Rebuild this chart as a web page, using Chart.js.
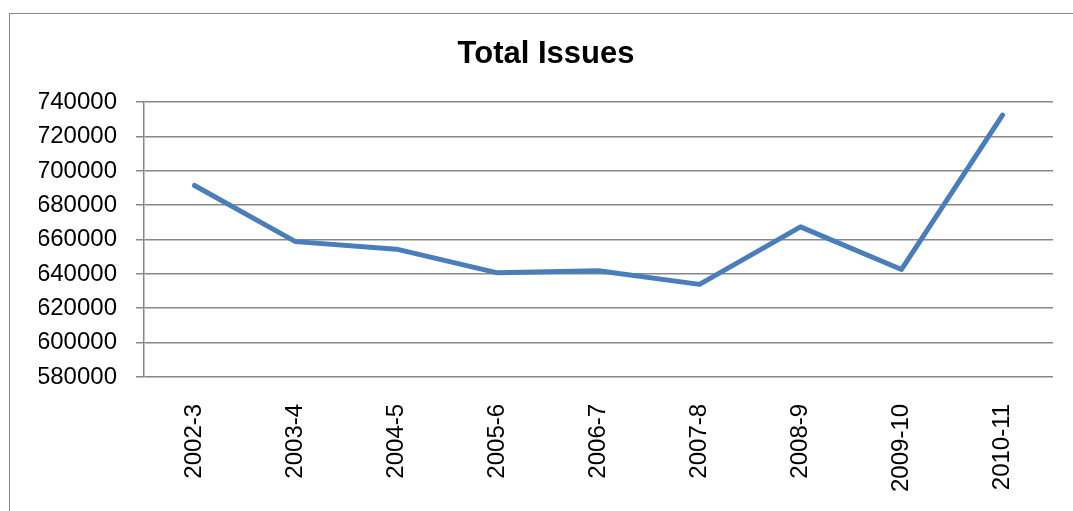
<!DOCTYPE html>
<html>
<head>
<meta charset="utf-8">
<script src="https://cdn.jsdelivr.net/npm/chart.js@4/dist/chart.umd.min.js"></script>
<style>
    html, body { margin: 0; padding: 0; background: #fff; overflow: hidden; }
    .frame { position: absolute; left: 9px; top: 13px; width: 1200px; height: 600px; border: 1.5px solid #8a8a8a; }
    .wrap { position: absolute; left: 0; top: 0; width: 1073px; height: 519px; }
</style>
</head>
<body>
<div class="frame"></div>
<div class="wrap"><canvas id="myChart"></canvas></div>
<script>
/*---------------------
~~~~~~~Chart data~~~~~~~
---------------------*/
const years = ['2002-3', '2003-4', '2004-5', '2005-6', '2006-7', '2007-8', '2008-9', '2009-10', '2010-11'];
const totalIssues = [691500, 658800, 654400, 640600, 641800, 633900, 667400, 642600, 732500];
const yMin = 580000;
const yMax = 740000;
const yStep = 20000;

const gridColor = '#878787';
const ctx = document.getElementById('myChart').getContext('2d');

const myChart = new Chart(ctx, {
    type: 'line',
    data: {
        labels: years,
        datasets: [{
            label: 'Total Issues',
            data: totalIssues,
            borderColor: '#4a7ebb',
            backgroundColor: '#4a7ebb',
            borderWidth: 5,
            borderCapStyle: 'round',
            borderJoinStyle: 'round',
            pointRadius: 0,
            tension: 0,
            fill: false,
        }]
    },
    options: {
        responsive: true,
        maintainAspectRatio: false,
        animation: false,
        layout: {
            padding: { left: 39, right: 20, top: 14, bottom: 0 }
        },
        plugins: {
            legend: { display: false },
            tooltip: { enabled: false },
            title: {
                display: true,
                text: 'Total Issues',
                color: '#000',
                font: { family: 'Liberation Sans', size: 31, weight: 'bold' },
                padding: { top: 22, bottom: 29 },
            },
        },
        scales: {
            x: {
                offset: true,
                grid: { display: false, drawTicks: false },
                border: { display: false },
                ticks: {
                    color: '#000',
                    font: { family: 'Liberation Sans', size: 24 },
                    minRotation: 90,
                    maxRotation: 90,
                    padding: 27,
                    autoSkip: false,
                },
            },
            y: {
                min: yMin,
                max: yMax,
                grid: { color: gridColor, lineWidth: 1.5, tickLength: 8 },
                border: { display: true, color: gridColor, width: 1.5 },
                ticks: {
                    stepSize: yStep,
                    color: '#000',
                    font: { family: 'Liberation Sans', size: 24 },
                    padding: 19,
                    callback: value => String(value),
                },
                afterFit: scale => { scale.width = 105; },
            },
        },
    }
});
</script>
</body>
</html>
